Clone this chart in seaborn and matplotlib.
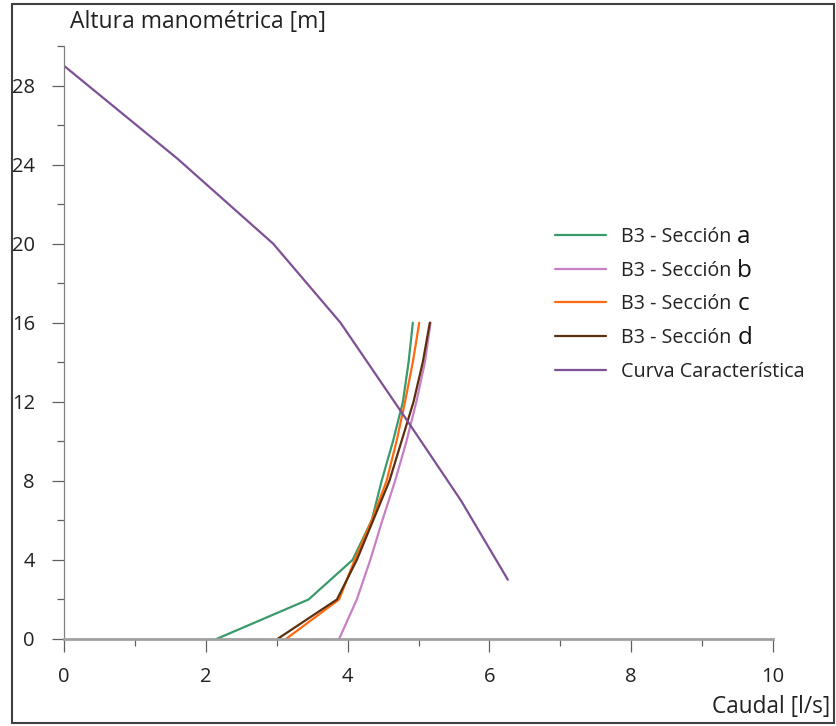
import matplotlib
matplotlib.use("Agg")
import matplotlib.pyplot as plt
import matplotlib.patches as patches
from matplotlib.ticker import MultipleLocator
import pandas as pd
import seaborn as sns

# Datos
alturas = [0, 2, 4, 6, 8, 10, 12, 14, 16]
caudal_a = [2.15, 3.45, 4.07, 4.34, 4.48, 4.64, 4.78, 4.86, 4.92]
caudal_b = [3.88, 4.13, 4.32, 4.49, 4.67, 4.83, 4.97, 5.09, 5.17]
caudal_c = [3.13, 3.88, 4.10, 4.34, 4.55, 4.69, 4.81, 4.92, 5.01]
caudal_d = [3.01, 3.85, 4.13, 4.36, 4.59, 4.76, 4.93, 5.06, 5.16]

curva_q = [0, 1.6, 2.95, 3.9, 4.85, 5.6, 6.26]
curva_h = [29, 24.3, 20, 16, 11, 7, 3]

letras = ["a", "b", "c", "d"]
colores = ["#3a9a6c", "#c87fc3", "#ff6a10", "#5a3010", "#7e5096"]

filas = []
for letra, q in zip(letras, [caudal_a, caudal_b, caudal_c, caudal_d]):
    for x, y in zip(q, alturas):
        filas.append({"serie": letra, "Q": x, "H": y})
for x, y in zip(curva_q, curva_h):
    filas.append({"serie": "curva", "Q": x, "H": y})
df = pd.DataFrame(filas)

sns.set_style("white")
plt.rcParams["font.family"] = ["Open Sans", "DejaVu Sans"]

fig = plt.figure(figsize=(8.36, 7.26), dpi=100)
ax = fig.add_axes([64 / 836, 1 - 639 / 726, (773 - 64) / 836, (639 - 46) / 726])

orden = letras + ["curva"]
for serie, color in zip(orden, colores):
    sub = df[df["serie"] == serie]
    sns.lineplot(data=sub, x="Q", y="H", sort=False, estimator=None,
                 color=color, linewidth=1.6, ax=ax)

ax.set_xlim(0, 10)
ax.set_ylim(0, 30)
ax.xaxis.set_major_locator(MultipleLocator(2))
ax.xaxis.set_minor_locator(MultipleLocator(1))
ax.yaxis.set_minor_locator(MultipleLocator(2))
ax.set_yticks([0, 4, 8, 12, 16, 20, 24, 28])

for s in ["top", "right"]:
    ax.spines[s].set_visible(False)
ax.spines["left"].set_color("#808080")
ax.spines["left"].set_linewidth(0.9)
ax.spines["bottom"].set_color("#a0a0a0")
ax.spines["bottom"].set_linewidth(2)

ax.tick_params(axis="both", which="both", bottom=True, left=True)
ax.tick_params(axis="both", which="major", direction="out", length=9,
               color="#606060", width=0.9, labelsize=14.5, labelcolor="#222222")
ax.tick_params(axis="both", which="minor", direction="out", length=5,
               color="#606060", width=0.9)
ax.tick_params(axis="x", which="major", pad=11)
ax.tick_params(axis="y", which="major", pad=12)

ax.set_xlabel("")
ax.set_ylabel("")
fig.text(70 / 836, 1 - 22 / 726, "Altura manométrica [m]", fontsize=16.5,
         color="#222222", va="center", ha="left")
fig.text(830 / 836, 1 - 707 / 726, "Caudal [l/s]", fontsize=16.3,
         color="#222222", va="center", ha="right")

handles = ax.get_lines()[:5]
etiquetas = ["B3 - Sección"] * 4 + ["Curva Característica"]
leg = ax.legend(handles, etiquetas, loc="upper left",
                bbox_to_anchor=(537 / 836, 1 - 209 / 726),
                bbox_transform=fig.transFigure, frameon=False,
                fontsize=14.2, handlelength=2.6, handletextpad=0.75,
                labelspacing=0.7)
for t in leg.get_texts():
    t.set_color("#222222")

# letra de cada seccion un poco mas grande, a continuacion del texto
fig.canvas.draw()
renderer = fig.canvas.get_renderer()
inv = fig.transFigure.inverted()
for t, letra in zip(leg.get_texts()[:4], letras):
    bb = t.get_window_extent(renderer)
    x0, y0 = inv.transform((bb.x1 + 6, (bb.y0 + bb.y1) / 2))
    fig.text(x0, y0, letra, fontsize=17.5, color="#111111",
             va="center", ha="left")

fig.patches.append(patches.Rectangle((12 / 836, 3 / 726), 822 / 836, 719 / 726,
                                     transform=fig.transFigure, fill=False,
                                     edgecolor="#404040", linewidth=1.5))

fig.savefig("out.png", dpi=100)
